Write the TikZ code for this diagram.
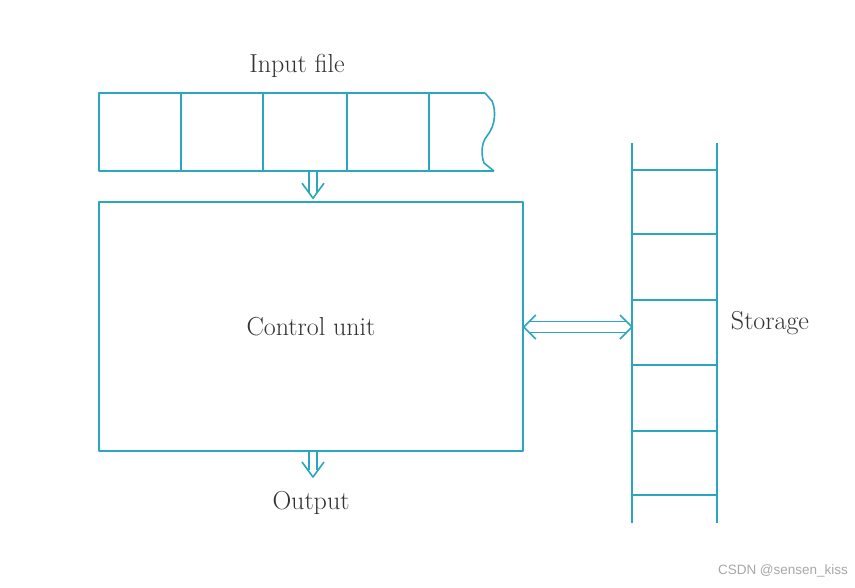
\documentclass[tikz,border=0pt]{standalone}
\usepackage{fontspec}
\usetikzlibrary{calc}
\newfontfamily\wmfont{Liberation Sans}
\definecolor{teal1}{HTML}{2AA6BE}
\definecolor{wmgray}{HTML}{A8A8A8}
\definecolor{txtgray}{HTML}{333333}
\begin{document}
\begin{tikzpicture}[x=1pt,y=-1pt,
  tl/.style={draw=teal1,line width=1.6pt,line join=round},
  lbl/.style={font=\fontsize{26}{30}\selectfont,text=txtgray,inner sep=0pt},
  cubox/.style={tl,minimum width=424pt,minimum height=249pt,inner sep=0pt,font=\fontsize{26}{30}\selectfont,text=txtgray}]
\useasboundingbox[fill=white] (0,0) rectangle (855,587);
% Input file tape
\node[lbl] (inlbl) at (297,66) {Input file};
\coordinate (tapeTL) at (99,93);
\coordinate (tapeBL) at (99,171);
\draw[tl] (485,93) -- (tapeTL) -- (tapeBL) -- (494,171);
\draw[tl] (485,93) -- (492,101) .. controls (496,110) and (496,125) .. (487,136) .. controls (481,143) and (481,155) .. (484,163) -- (494,171);
\foreach \x in {181,263,347,429} \draw[tl] (\x,93) -- (\x,171);
\coordinate (tapeout) at (313,171);
% Control unit
\node[cubox] (cu) at (311,326.5) {Control unit};
\coordinate (cutip) at ($(cu.north -| tapeout)+(0,-3)$);
% arrow tape -> control unit
\draw[tl] ($(tapeout)+(-4,0)$) -- ++(0,22) ($(tapeout)+(4,0)$) -- ++(0,22);
\draw[tl] ($(cutip)+(-11,-15)$) -- (cutip) -- ($(cutip)+(11,-15)$);
% Output
\node[lbl] (outlbl) at (311,503) {Output};
\coordinate (outtip) at (313,477);
\draw[tl] (cu.south -| 309,0) -- (309,470) (cu.south -| 317,0) -- (317,470);
\draw[tl] ($(outtip)+(-11,-15)$) -- (outtip) -- ($(outtip)+(11,-15)$);
% Storage ladder
\draw[tl] (632,143) -- (632,523) (717,143) -- (717,523);
\foreach \y in {170,234,300,365,431,495} \draw[tl] (632,\y) -- (717,\y);
\coordinate (stl) at (632,327);
\coordinate (cur) at (cu.east |- stl);
\node[lbl] (stlbl) at (770,323) {Storage};
% double arrow control unit <-> storage
\draw[tl] ($(cur)+(5,-5.5)$) -- ($(stl)+(-5,-5.5)$)
          ($(cur)+(5,5.5)$) -- ($(stl)+(-5,5.5)$);
\draw[tl] ($(cur)+(12,-12)$) -- (cur) -- ($(cur)+(12,12)$);
\draw[tl] ($(stl)+(-12,-12)$) -- (stl) -- ($(stl)+(-12,12)$);
% watermark
\node[font=\wmfont\fontsize{13.5}{16}\selectfont,text=wmgray,inner sep=0pt] (wm) at (783,571) {CSDN @sensen\_kiss};
\end{tikzpicture}
\end{document}
